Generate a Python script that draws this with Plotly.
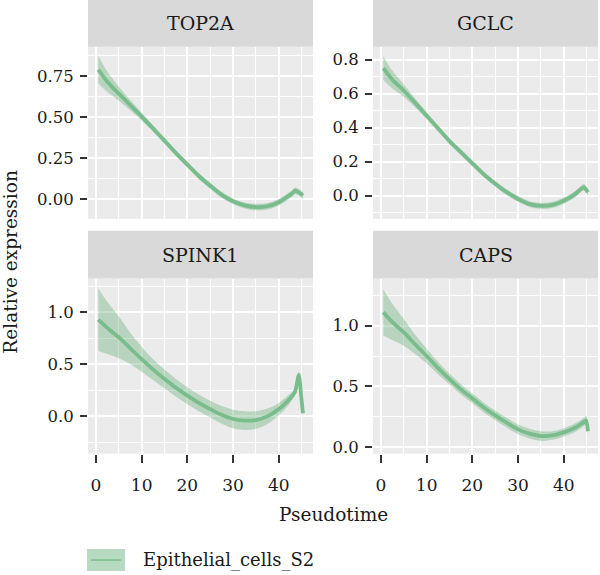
import plotly.graph_objects as go

# ---------------- data ----------------
GENES = ["TOP2A", "GCLC", "SPINK1", "CAPS"]
CELL_TYPE = "Epithelial_cells_S2"

PSEUDOTIME = [0.5, 2.5, 5, 7.5, 10, 12.5, 15, 17.5, 20, 22.5, 25, 27.5, 30,
              32.5, 35, 37.5, 40, 42, 43, 43.6, 44.4, 44.9, 45.3]

TOP2A_FIT = [0.79, 0.715, 0.643, 0.573, 0.503, 0.43, 0.355, 0.28, 0.21, 0.14, 0.08, 0.025, -0.015,
             -0.04, -0.05, -0.045, -0.02, 0.015, 0.035, 0.05, 0.04, 0.03, 0.02]
TOP2A_SE = [0.085, 0.062, 0.043, 0.031, 0.024, 0.02, 0.018, 0.018, 0.018, 0.018, 0.018, 0.018, 0.018,
            0.018, 0.02, 0.02, 0.02, 0.02, 0.02, 0.02, 0.02, 0.02, 0.02]

GCLC_FIT = [0.75, 0.682, 0.617, 0.545, 0.47, 0.395, 0.32, 0.255, 0.19, 0.125, 0.07, 0.02, -0.02,
            -0.05, -0.06, -0.055, -0.03, 0.0, 0.02, 0.035, 0.05, 0.035, 0.02]
GCLC_SE = [0.07, 0.052, 0.037, 0.027, 0.021, 0.018, 0.017, 0.017, 0.017, 0.017, 0.017, 0.017, 0.017,
           0.017, 0.018, 0.018, 0.018, 0.018, 0.018, 0.018, 0.018, 0.018, 0.018]

SPINK1_FIT = [0.93, 0.85, 0.76, 0.655, 0.55, 0.45, 0.36, 0.275, 0.20, 0.13, 0.07, 0.015, -0.025,
              -0.04, -0.035, 0.0, 0.07, 0.15, 0.20, 0.24, 0.40, 0.2, 0.03]
SPINK1_SE = [0.3, 0.25, 0.2, 0.15, 0.12, 0.1, 0.09, 0.085, 0.08, 0.08, 0.08, 0.085, 0.09,
             0.09, 0.085, 0.075, 0.06, 0.05, 0.04, 0.035, 0.03, 0.03, 0.03]

CAPS_FIT = [1.11, 1.03, 0.945, 0.845, 0.75, 0.65, 0.56, 0.475, 0.40, 0.325, 0.26, 0.2, 0.145,
            0.11, 0.09, 0.095, 0.12, 0.15, 0.17, 0.185, 0.205, 0.22, 0.13]
CAPS_SE = [0.19, 0.15, 0.11, 0.08, 0.06, 0.05, 0.045, 0.042, 0.04, 0.04, 0.04, 0.04, 0.04,
           0.04, 0.04, 0.035, 0.035, 0.035, 0.035, 0.035, 0.035, 0.035, 0.035]

FITS = [TOP2A_FIT, GCLC_FIT, SPINK1_FIT, CAPS_FIT]
SES = [TOP2A_SE, GCLC_SE, SPINK1_SE, CAPS_SE]

X_TICKS = [0, 10, 20, 30, 40]
Y_TICK_STEP = [0.25, 0.2, 0.5, 0.5]
Y_TICK_FMT = [".2f", ".1f", ".1f", ".1f"]
Y_RANGES = [[-0.122, 0.93], [-0.137, 0.876], [-0.358, 1.326], [-0.055, 1.389]]
X_RANGE = [-1.75, 47.5]

# ---------------- styling ----------------
FONT = "DejaVu Serif"
LINE_COL = "#7ABD8C"
BAND_COL = "rgba(95,172,115,0.36)"
PANEL_BG = "#EBEBEB"
STRIP_BG = "#D9D9D9"
TXT = "#1a1a1a"
W, H = 600, 575

col_dom = [[88 / W, 313 / W], [373 / W, 598 / W]]
row_dom = [[1 - 220 / H, 1 - 47 / H], [1 - 456 / H, 1 - 280 / H]]
strip_dom = [[1 - 47 / H, 1.0], [1 - 280 / H, 1 - 232 / H]]

fig = go.Figure()
layout = dict(
    width=W, height=H, autosize=False,
    margin=dict(l=0, r=0, t=0, b=0),
    paper_bgcolor="white", plot_bgcolor=PANEL_BG,
    showlegend=False,
    font=dict(family=FONT, color=TXT),
    shapes=[], annotations=[],
)

for i, gene in enumerate(GENES):
    r, c = divmod(i, 2)
    n = i + 1
    xa = "x" if n == 1 else f"x{n}"
    ya = "y" if n == 1 else f"y{n}"
    fit, se = FITS[i], SES[i]
    upper = [f + s for f, s in zip(fit, se)]
    lower = [f - s for f, s in zip(fit, se)]
    fig.add_trace(go.Scatter(x=PSEUDOTIME, y=upper, mode="lines", line=dict(width=0),
                             xaxis=xa, yaxis=ya, hoverinfo="skip", line_shape="spline"))
    fig.add_trace(go.Scatter(x=PSEUDOTIME, y=lower, mode="lines", line=dict(width=0),
                             fill="tonexty", fillcolor=BAND_COL,
                             xaxis=xa, yaxis=ya, hoverinfo="skip", line_shape="spline"))
    fig.add_trace(go.Scatter(x=PSEUDOTIME, y=fit, mode="lines",
                             line=dict(color=LINE_COL, width=3.8, shape="spline", smoothing=0.6),
                             xaxis=xa, yaxis=ya, name=CELL_TYPE))

    bottom = (r == 1)
    xkey = "xaxis" if n == 1 else f"xaxis{n}"
    ykey = "yaxis" if n == 1 else f"yaxis{n}"
    layout[xkey] = dict(
        domain=col_dom[c], anchor=ya, range=X_RANGE,
        tickmode="array", tickvals=X_TICKS,
        showticklabels=bottom, ticks="outside" if bottom else "",
        ticklen=8, tickwidth=1.5, tickcolor="#333333",
        ticklabelstandoff=8,
        tickfont=dict(size=17, family=FONT, color=TXT),
        showgrid=True, gridcolor="white", gridwidth=1.8,
        minor=dict(tickmode="linear", tick0=0, dtick=5, showgrid=True,
                   gridcolor="white", gridwidth=0.9, ticks=""),
        zeroline=False, showline=False, fixedrange=True,
    )
    step = Y_TICK_STEP[i]
    layout[ykey] = dict(
        domain=row_dom[r], anchor=xa, range=Y_RANGES[i],
        tickmode="linear", tick0=0, dtick=step, tickformat=Y_TICK_FMT[i],
        ticks="outside", ticklen=7, tickwidth=1.5, tickcolor="#333333",
        ticklabelstandoff=3,
        tickfont=dict(size=16.5, family=FONT, color=TXT),
        showgrid=True, gridcolor="white", gridwidth=1.8,
        minor=dict(tickmode="linear", tick0=0, dtick=step / 2, showgrid=True,
                   gridcolor="white", gridwidth=0.9, ticks=""),
        zeroline=False, showline=False, fixedrange=True,
    )
    # facet strip
    layout["shapes"].append(dict(type="rect", xref="paper", yref="paper",
                                 x0=col_dom[c][0], x1=col_dom[c][1],
                                 y0=strip_dom[r][0], y1=strip_dom[r][1],
                                 fillcolor=STRIP_BG, line=dict(width=0), layer="below"))
    layout["annotations"].append(dict(text=gene, xref="paper", yref="paper",
                                      x=sum(col_dom[c]) / 2, y=sum(strip_dom[r]) / 2,
                                      xanchor="center", yanchor="middle", showarrow=False,
                                      font=dict(size=19, family=FONT, color=TXT)))

# axis titles
layout["annotations"].append(dict(text="Pseudotime", xref="paper", yref="paper",
                                  x=333 / W, y=1 - 517 / H, xanchor="center", yanchor="middle",
                                  showarrow=False, font=dict(size=18.5, family=FONT, color=TXT)))
layout["annotations"].append(dict(text="Relative expression", xref="paper", yref="paper",
                                  x=11 / W, y=1 - 263 / H, xanchor="center", yanchor="middle",
                                  textangle=-90, showarrow=False,
                                  font=dict(size=18.5, family=FONT, color=TXT)))

# legend (drawn manually: filled key with line)
layout["shapes"].append(dict(type="rect", xref="paper", yref="paper",
                             x0=87 / W, x1=125 / W, y0=1 - 574 / H, y1=1 - 552 / H,
                             fillcolor="#B7DAC0", line=dict(width=0)))
layout["shapes"].append(dict(type="line", xref="paper", yref="paper",
                             x0=91 / W, x1=121 / W, y0=1 - 563 / H, y1=1 - 563 / H,
                             line=dict(color=LINE_COL, width=1.5)))
layout["annotations"].append(dict(text=CELL_TYPE, xref="paper", yref="paper",
                                  x=141 / W, y=1 - 563 / H, xanchor="left", yanchor="middle",
                                  showarrow=False, font=dict(size=18, family=FONT, color=TXT)))

fig.update_layout(**layout)
fig.write_html("out.html")
